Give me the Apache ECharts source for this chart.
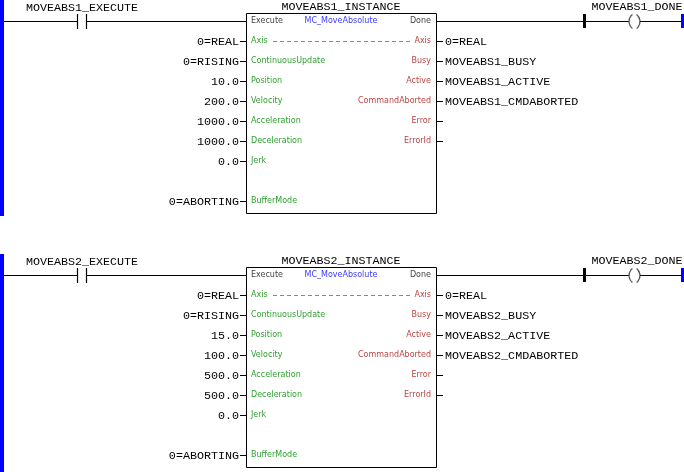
<!DOCTYPE html>
<html><head><meta charset="utf-8">
<script src="https://cdn.jsdelivr.net/npm/echarts@6/dist/echarts.min.js"></script>
<style>html,body{margin:0;padding:0;background:#fff}#c{width:684px;height:472px}</style>
</head><body><div id="c"></div>
<script>
const rungs = ["MOVEABS1", "MOVEABS2"];
const rungTops = [0, 254];
const inputPins = ["Axis", "ContinuousUpdate", "Position", "Velocity", "Acceleration", "Deceleration", "Jerk", "BufferMode"];
const inputRows = [1, 2, 3, 4, 5, 6, 7, 9];
const inputValues1 = ["0=REAL", "0=RISING", "10.0", "200.0", "1000.0", "1000.0", "0.0", "0=ABORTING"];
const inputValues2 = ["0=REAL", "0=RISING", "15.0", "100.0", "500.0", "500.0", "0.0", "0=ABORTING"];
const outputPins = ["Axis", "Busy", "Active", "CommandAborted", "Error", "ErrorId"];
const outputSuffix = ["", "_BUSY", "_ACTIVE", "_CMDABORTED", "", ""];
const blockType = "MC_MoveAbsolute";

const MONO = "'Liberation Mono', 'DejaVu Sans Mono', monospace";
const SANS = "'DejaVu Sans', Verdana, sans-serif";
const GREEN = "#2f9e2f", RED = "#b84444", BLUE = "#3b3bff", RAIL = "#0000ff";
const MS = 11.7;

function renderRung(params, api) {
  const i = api.value(0);
  const top = rungTops[i];
  const name = rungs[i];
  const vals = i === 0 ? inputValues1 : inputValues2;
  const P = (x, y) => api.coord([x, top + y]);
  const ch = [];
  const line = (x1, y1, x2, y2, color, w, dash) => {
    const a = P(x1, y1), b = P(x2, y2);
    ch.push({type: 'line', shape: {x1: a[0], y1: a[1], x2: b[0], y2: b[1]},
      style: {stroke: color || '#000', lineWidth: w || 1, lineDash: dash || null}});
  };
  const rect = (x, y, w, h, fill, stroke) => {
    const a = P(x, y);
    ch.push({type: 'rect', shape: {x: a[0], y: a[1], width: w, height: h},
      style: {fill: fill || 'none', stroke: stroke || null, lineWidth: 1}});
  };
  const text = (s, x, y, align, font, size, color) => {
    const a = P(x, y);
    ch.push({type: 'text', x: a[0], y: a[1], style: {text: s, align: align, verticalAlign: 'middle',
      fontFamily: font, fontSize: size, fill: color}});
  };
  rect(0, 0, 4, i === 0 ? 216 : 218, RAIL);
  line(4, 21.5, 77, 21.5);
  line(77.5, 14, 77.5, 29, '#000', 1.2);
  line(86.5, 14, 86.5, 29, '#000', 1.2);
  line(87, 21.5, 246, 21.5);
  text(name + "_EXECUTE", 82, 8, 'center', MONO, MS, '#000');
  ch.push({type: 'rect', shape: {x: P(246.5, 0)[0], y: P(0, 13.5)[1], width: 190, height: 200},
    style: {fill: '#fff', stroke: '#000', lineWidth: 1}});
  text(name + "_INSTANCE", 341, 7, 'center', MONO, MS, '#000');
  text("Execute", 251, 21, 'left', SANS, 8, '#444');
  text(blockType, 341, 21, 'center', SANS, 8, BLUE);
  text("Done", 431, 21, 'right', SANS, 8, '#444');
  inputPins.forEach((p, k) => {
    const y = 21 + 20 * inputRows[k];
    text(p, 251, y, 'left', SANS, 8, GREEN);
    line(240, y + 0.5, 246, y + 0.5);
    text(vals[k], 239, y + 0.5, 'right', MONO, MS, '#000');
  });
  line(273, 41.5, 410, 41.5, '#888', 1, [4, 3]);
  outputPins.forEach((p, k) => {
    const y = 41 + 20 * k;
    text(p, 431, y, 'right', SANS, 8, RED);
    line(437, y + 0.5, 443, y + 0.5);
    const v = k === 0 ? "0=REAL" : (outputSuffix[k] ? name + outputSuffix[k] : "");
    if (v) text(v, 445, y + 0.5, 'left', MONO, MS, '#000');
  });
  line(437, 21.5, 583, 21.5);
  rect(583, 14, 3, 14, '#000');
  line(586, 21.5, 629, 21.5);
  const L = P(638, 21.5), R = P(631, 21.5);
  ch.push({type: 'arc', shape: {cx: L[0], cy: L[1], r: 9, startAngle: Math.PI - 0.9, endAngle: Math.PI + 0.9},
    style: {stroke: '#555', lineWidth: 1.3, fill: 'none'}});
  ch.push({type: 'arc', shape: {cx: R[0], cy: R[1], r: 9, startAngle: -0.9, endAngle: 0.9},
    style: {stroke: '#555', lineWidth: 1.3, fill: 'none'}});
  line(640, 21.5, 681, 21.5);
  rect(681, 14, 3, 14, RAIL);
  text(name + "_DONE", 637, 7, 'center', MONO, MS, '#000');
  return {type: 'group', children: ch};
}

const chart = echarts.init(document.getElementById('c'));
chart.setOption({
  animation: false,
  grid: {left: 0, right: 0, top: 0, bottom: 0},
  xAxis: {type: 'value', min: 0, max: 684, show: false},
  yAxis: {type: 'value', min: 0, max: 472, inverse: true, show: false},
  series: [{type: 'custom', renderItem: renderRung, data: rungs.map((r, i) => [i]), clip: false}]
});
</script></body></html>
